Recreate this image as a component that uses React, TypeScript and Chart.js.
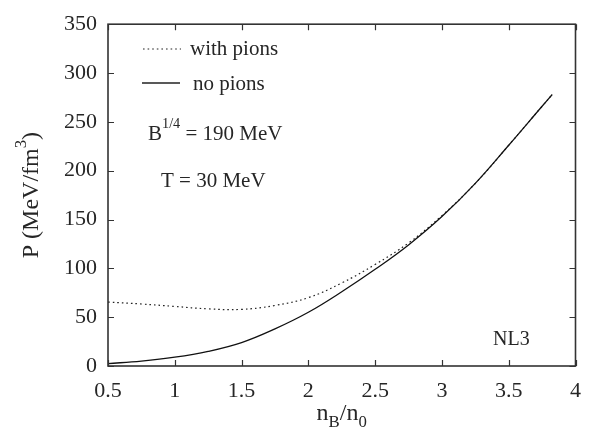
import React, { useEffect, useRef } from "react";
import { Chart, registerables } from "chart.js";

Chart.register(...registerables);

// Baryon density n_B/n_0
const density = [0.5, 0.75, 1.0, 1.25, 1.5, 1.75, 2.0, 2.25, 2.5, 2.75, 3.0, 3.25, 3.5, 3.75, 3.826];
// Pressure P (MeV/fm^3)
const pressureWithPions = [65.5, 63.5, 61, 58.5, 58, 62, 70, 85, 104, 126, 154, 187, 226, 266, 278];
const pressureNoPions = [2.5, 5, 9, 15, 24, 38, 55, 76, 99, 124, 153, 187, 226, 266, 278];

const xTickValues = [0.5, 1, 1.5, 2, 2.5, 3, 3.5, 4];
const xTickLabels = ["0.5", "1", "1.5", "2", "2.5", "3", "3.5", "4"];
const yTickValues = [0, 50, 100, 150, 200, 250, 300, 350];
const yTickLabels = ["0", "50", "100", "150", "200", "250", "300", "350"];

const FONT = '"Liberation Serif", "Times New Roman", serif';
const INK = "#262626";

type Run = { text: string; shift?: number; scale?: number };

function drawRuns(
  ctx: CanvasRenderingContext2D,
  runs: Run[],
  x: number,
  y: number,
  size: number,
  align: "left" | "center"
) {
  const widths = runs.map((r) => {
    ctx.font = `${size * (r.scale ?? 1)}px ${FONT}`;
    return ctx.measureText(r.text).width;
  });
  const total = widths.reduce((a, b) => a + b, 0);
  let cx = align === "center" ? x - total / 2 : x;
  ctx.textAlign = "left";
  ctx.textBaseline = "alphabetic";
  runs.forEach((r, i) => {
    ctx.font = `${size * (r.scale ?? 1)}px ${FONT}`;
    ctx.fillText(r.text, cx, y - (r.shift ?? 0) * size);
    cx += widths[i];
  });
}

const framePlugin = {
  id: "frameAndNotes",
  afterDraw(chart: any) {
    const { ctx, chartArea: a } = chart;
    const xs = chart.scales.x;
    const ys = chart.scales.y;
    ctx.save();

    // frame with inward tick marks on all four sides
    ctx.strokeStyle = "#333";
    ctx.lineWidth = 1.6;
    ctx.strokeRect(a.left, a.top, a.right - a.left, a.bottom - a.top);
    const tl = 6;
    ctx.lineWidth = 1.2;
    ctx.beginPath();
    xTickValues.forEach((v) => {
      const px = Math.round(xs.getPixelForValue(v)) + 0.5;
      ctx.moveTo(px, a.bottom);
      ctx.lineTo(px, a.bottom - tl);
      ctx.moveTo(px, a.top);
      ctx.lineTo(px, a.top + tl);
    });
    yTickValues.forEach((v) => {
      const py = Math.round(ys.getPixelForValue(v)) + 0.5;
      ctx.moveTo(a.left, py);
      ctx.lineTo(a.left + tl, py);
      ctx.moveTo(a.right, py);
      ctx.lineTo(a.right - tl, py);
    });
    ctx.stroke();

    // legend samples
    ctx.strokeStyle = "#222";
    ctx.lineWidth = 1.2;
    ctx.setLineDash([1.6, 3]);
    ctx.beginPath();
    ctx.moveTo(143, 49);
    ctx.lineTo(181, 49);
    ctx.stroke();
    ctx.setLineDash([]);
    ctx.lineWidth = 1.3;
    ctx.beginPath();
    ctx.moveTo(142, 83);
    ctx.lineTo(180, 83);
    ctx.stroke();

    ctx.fillStyle = INK;
    drawRuns(ctx, [{ text: "with pions" }], 190, 55, 21, "left");
    drawRuns(ctx, [{ text: "no pions" }], 193, 90, 21, "left");
    drawRuns(
      ctx,
      [{ text: "B" }, { text: "1/4", shift: 0.55, scale: 0.68 }, { text: " = 190 MeV" }],
      148,
      140,
      21,
      "left"
    );
    drawRuns(ctx, [{ text: "T = 30 MeV" }], 161, 187, 21, "left");
    drawRuns(ctx, [{ text: "NL3" }], 493, 345, 20, "left");

    // axis titles
    drawRuns(
      ctx,
      [{ text: "n" }, { text: "B", shift: -0.28, scale: 0.7 }, { text: "/n" }, { text: "0", shift: -0.28, scale: 0.7 }],
      (a.left + a.right) / 2,
      420,
      24,
      "center"
    );
    ctx.save();
    ctx.translate(38, (a.top + a.bottom) / 2);
    ctx.rotate(-Math.PI / 2);
    drawRuns(
      ctx,
      [{ text: "P (MeV/fm" }, { text: "3", shift: 0.52, scale: 0.7 }, { text: ")" }],
      0,
      0,
      24,
      "center"
    );
    ctx.restore();

    ctx.restore();
  },
};

export default function App() {
  const canvasRef = useRef<HTMLCanvasElement | null>(null);

  useEffect(() => {
    const canvas = canvasRef.current;
    if (!canvas) return;
    const tickFont = { family: FONT, size: 22 };
    const chart = new Chart(canvas, {
      type: "line",
      data: {
        datasets: [
          {
            label: "no pions",
            data: density.map((x, i) => ({ x, y: pressureNoPions[i] })),
            borderColor: "#111",
            borderWidth: 1.3,
            pointRadius: 0,
            tension: 0.4,
            order: 0,
          },
          {
            label: "with pions",
            data: density.map((x, i) => ({ x, y: pressureWithPions[i] })),
            borderColor: "#222",
            borderWidth: 1.2,
            borderDash: [1.6, 3],
            pointRadius: 0,
            tension: 0.4,
            order: 1,
          },
        ],
      },
      options: {
        responsive: false,
        animation: false,
        layout: { padding: { left: 0, right: 13, top: 23, bottom: 0 } },
        plugins: { legend: { display: false }, tooltip: { enabled: false } },
        scales: {
          x: {
            type: "linear",
            min: 0.5,
            max: 4,
            grid: { display: false, drawTicks: false },
            border: { display: false },
            afterBuildTicks: (s: any) => {
              s.ticks = xTickValues.map((v) => ({ value: v }));
            },
            afterFit: (s: any) => {
              s.height = 69;
            },
            ticks: {
              padding: 12,
              maxRotation: 0,
              autoSkip: false,
              color: INK,
              font: tickFont,
              callback: (_v: any, i: number) => xTickLabels[i],
            },
          },
          y: {
            type: "linear",
            min: 0,
            max: 350,
            grid: { display: false, drawTicks: false },
            border: { display: false },
            afterBuildTicks: (s: any) => {
              s.ticks = yTickValues.map((v) => ({ value: v }));
            },
            afterFit: (s: any) => {
              s.width = 108;
            },
            ticks: {
              padding: 11,
              autoSkip: false,
              color: INK,
              font: tickFont,
              callback: (_v: any, i: number) => yTickLabels[i],
            },
          },
        },
      },
      plugins: [framePlugin],
    } as any);
    return () => chart.destroy();
  }, []);

  return (
    <div style={{ position: "absolute", left: 0, top: 0, width: 593, height: 435, background: "#fff" }}>
      <canvas ref={canvasRef} width={593} height={435} style={{ display: "block" }} />
    </div>
  );
}
